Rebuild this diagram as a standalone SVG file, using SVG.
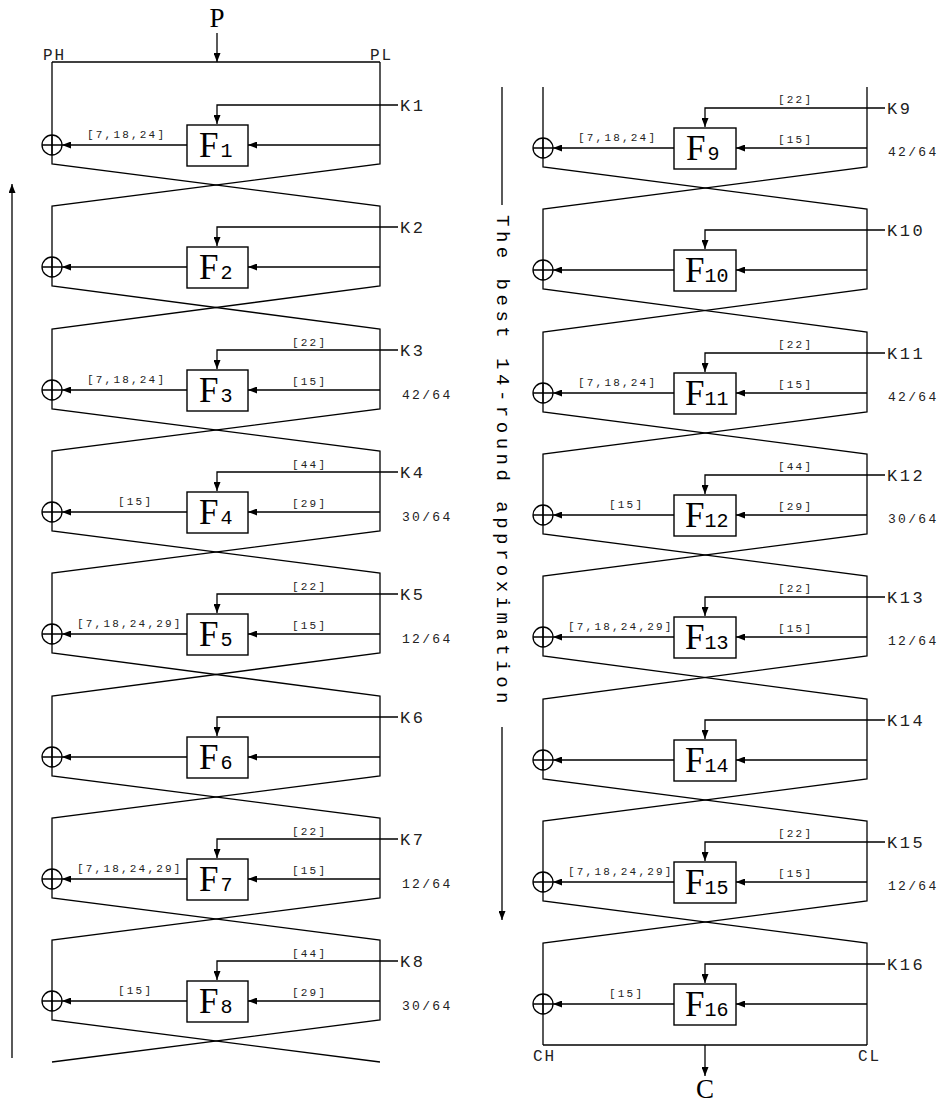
<svg xmlns="http://www.w3.org/2000/svg" width="946" height="1103" viewBox="0 0 946 1103">
<style>
.ln{stroke:#000;stroke-width:1.3;fill:none}
.ar{stroke:#000;stroke-width:1.3;fill:none;marker-end:url(#ah)}
.box{fill:#fff;stroke:#000;stroke-width:1.4}
.xor{fill:none;stroke:#000;stroke-width:1.3}
.lbl{font-family:"Liberation Mono",monospace;font-size:11px;letter-spacing:2.2px;fill:#222}
.frac{font-family:"Liberation Mono",monospace;font-size:13px;letter-spacing:2.3px;fill:#222}
.key{font-family:"Liberation Mono",monospace;font-size:17px;letter-spacing:2.5px;fill:#222}
.end{font-family:"Liberation Mono",monospace;font-size:16px;letter-spacing:2px;fill:#222}
.fn{font-family:"Liberation Serif",serif;font-size:35px;fill:#000}
.sub{font-family:"Liberation Mono",monospace;font-size:20px}
.io{font-family:"Liberation Serif",serif;font-size:27px;fill:#000}
.vt{font-family:"Liberation Mono",monospace;font-size:19px;letter-spacing:4.5px;fill:#000}
</style>
<defs>
<marker id="ah" markerUnits="userSpaceOnUse" markerWidth="9" markerHeight="7" refX="9" refY="3.5" orient="auto"><path d="M0,0 L9,3.5 L0,7 z" fill="#000"/></marker>
</defs>
<rect width="946" height="1103" fill="#fff"/>
<g id="connectors">
<path class="ar" d="M217,33 V62"/>
<path class="ln" d="M52,62 H380"/>
<path class="ln" d="M52,62 V164 L380,206 V286 L52,329 V409 L380,451 V531 L52,573 V653 L380,696 V776 L52,818 V898 L380,940 V1020 L52,1062"/>
<path class="ln" d="M380,62 V164 L52,206 V286 L380,329 V409 L52,451 V531 L380,573 V653 L52,696 V776 L380,818 V898 L52,940 V1020 L380,1062"/>
<path class="ln" d="M543,87 V167 L867,209 V289 L543,332 V412 L867,454 V534 L543,576 V656 L867,699 V779 L543,821 V901 L867,943 V1045"/>
<path class="ln" d="M867,87 V167 L543,209 V289 L867,332 V412 L543,454 V534 L867,576 V656 L543,699 V779 L867,821 V901 L543,943 V1045"/>
<path class="ln" d="M543,1045 H867"/>
<path class="ar" d="M705,1045 V1076"/>
<path class="ar" d="M12,1058 V184"/>
<path class="ln" d="M502,87 V205"/>
<path class="ar" d="M502,727 V920"/>
<path class="ar" d="M398,105 H217 V124"/><path class="ar" d="M380,145 H248"/><path class="ar" d="M187,145 H62"/>
<path class="ar" d="M398,227 H217 V246"/><path class="ar" d="M380,267 H248"/><path class="ar" d="M187,267 H62"/>
<path class="ar" d="M398,350 H217 V369"/><path class="ar" d="M380,390 H248"/><path class="ar" d="M187,390 H62"/>
<path class="ar" d="M398,472 H217 V491"/><path class="ar" d="M380,512 H248"/><path class="ar" d="M187,512 H62"/>
<path class="ar" d="M398,594 H217 V613"/><path class="ar" d="M380,634 H248"/><path class="ar" d="M187,634 H62"/>
<path class="ar" d="M398,717 H217 V736"/><path class="ar" d="M380,757 H248"/><path class="ar" d="M187,757 H62"/>
<path class="ar" d="M398,839 H217 V858"/><path class="ar" d="M380,879 H248"/><path class="ar" d="M187,879 H62"/>
<path class="ar" d="M398,961 H217 V980"/><path class="ar" d="M380,1001 H248"/><path class="ar" d="M187,1001 H62"/>
<path class="ar" d="M885,108 H705 V127"/><path class="ar" d="M867,148 H736"/><path class="ar" d="M674,148 H553"/>
<path class="ar" d="M885,230 H705 V249"/><path class="ar" d="M867,270 H736"/><path class="ar" d="M674,270 H553"/>
<path class="ar" d="M885,353 H705 V372"/><path class="ar" d="M867,393 H736"/><path class="ar" d="M674,393 H553"/>
<path class="ar" d="M885,475 H705 V494"/><path class="ar" d="M867,515 H736"/><path class="ar" d="M674,515 H553"/>
<path class="ar" d="M885,597 H705 V616"/><path class="ar" d="M867,637 H736"/><path class="ar" d="M674,637 H553"/>
<path class="ar" d="M885,720 H705 V739"/><path class="ar" d="M867,760 H736"/><path class="ar" d="M674,760 H553"/>
<path class="ar" d="M885,842 H705 V861"/><path class="ar" d="M867,882 H736"/><path class="ar" d="M674,882 H553"/>
<path class="ar" d="M885,964 H705 V983"/><path class="ar" d="M867,1004 H736"/><path class="ar" d="M674,1004 H553"/>
</g>
<g id="F1"><rect class="box" x="187" y="125" width="61" height="41"/><text class="fn" x="199" y="157">F<tspan class="sub" dx="2">1</tspan></text></g>
<g id="F2"><rect class="box" x="187" y="247" width="61" height="41"/><text class="fn" x="199" y="279">F<tspan class="sub" dx="2">2</tspan></text></g>
<g id="F3"><rect class="box" x="187" y="370" width="61" height="41"/><text class="fn" x="199" y="402">F<tspan class="sub" dx="2">3</tspan></text></g>
<g id="F4"><rect class="box" x="187" y="492" width="61" height="41"/><text class="fn" x="199" y="524">F<tspan class="sub" dx="2">4</tspan></text></g>
<g id="F5"><rect class="box" x="187" y="614" width="61" height="41"/><text class="fn" x="199" y="646">F<tspan class="sub" dx="2">5</tspan></text></g>
<g id="F6"><rect class="box" x="187" y="737" width="61" height="41"/><text class="fn" x="199" y="769">F<tspan class="sub" dx="2">6</tspan></text></g>
<g id="F7"><rect class="box" x="187" y="859" width="61" height="41"/><text class="fn" x="199" y="891">F<tspan class="sub" dx="2">7</tspan></text></g>
<g id="F8"><rect class="box" x="187" y="981" width="61" height="41"/><text class="fn" x="199" y="1013">F<tspan class="sub" dx="2">8</tspan></text></g>
<g id="F9"><rect class="box" x="674" y="128" width="62" height="41"/><text class="fn" x="686" y="160">F<tspan class="sub" dx="2">9</tspan></text></g>
<g id="F10"><rect class="box" x="674" y="250" width="62" height="41"/><text class="fn" x="685" y="282">F<tspan class="sub" dx="0">10</tspan></text></g>
<g id="F11"><rect class="box" x="674" y="373" width="62" height="41"/><text class="fn" x="685" y="405">F<tspan class="sub" dx="0">11</tspan></text></g>
<g id="F12"><rect class="box" x="674" y="495" width="62" height="41"/><text class="fn" x="685" y="527">F<tspan class="sub" dx="0">12</tspan></text></g>
<g id="F13"><rect class="box" x="674" y="617" width="62" height="41"/><text class="fn" x="685" y="649">F<tspan class="sub" dx="0">13</tspan></text></g>
<g id="F14"><rect class="box" x="674" y="740" width="62" height="41"/><text class="fn" x="685" y="772">F<tspan class="sub" dx="0">14</tspan></text></g>
<g id="F15"><rect class="box" x="674" y="862" width="62" height="41"/><text class="fn" x="685" y="894">F<tspan class="sub" dx="0">15</tspan></text></g>
<g id="F16"><rect class="box" x="674" y="984" width="62" height="41"/><text class="fn" x="685" y="1016">F<tspan class="sub" dx="0">16</tspan></text></g>
<g id="xor1" class="xor"><circle cx="52" cy="145" r="10"/><path d="M42,145 H62 M52,135 V155"/></g>
<g id="xor2" class="xor"><circle cx="52" cy="267" r="10"/><path d="M42,267 H62 M52,257 V277"/></g>
<g id="xor3" class="xor"><circle cx="52" cy="390" r="10"/><path d="M42,390 H62 M52,380 V400"/></g>
<g id="xor4" class="xor"><circle cx="52" cy="512" r="10"/><path d="M42,512 H62 M52,502 V522"/></g>
<g id="xor5" class="xor"><circle cx="52" cy="634" r="10"/><path d="M42,634 H62 M52,624 V644"/></g>
<g id="xor6" class="xor"><circle cx="52" cy="757" r="10"/><path d="M42,757 H62 M52,747 V767"/></g>
<g id="xor7" class="xor"><circle cx="52" cy="879" r="10"/><path d="M42,879 H62 M52,869 V889"/></g>
<g id="xor8" class="xor"><circle cx="52" cy="1001" r="10"/><path d="M42,1001 H62 M52,991 V1011"/></g>
<g id="xor9" class="xor"><circle cx="543" cy="148" r="10"/><path d="M533,148 H553 M543,138 V158"/></g>
<g id="xor10" class="xor"><circle cx="543" cy="270" r="10"/><path d="M533,270 H553 M543,260 V280"/></g>
<g id="xor11" class="xor"><circle cx="543" cy="393" r="10"/><path d="M533,393 H553 M543,383 V403"/></g>
<g id="xor12" class="xor"><circle cx="543" cy="515" r="10"/><path d="M533,515 H553 M543,505 V525"/></g>
<g id="xor13" class="xor"><circle cx="543" cy="637" r="10"/><path d="M533,637 H553 M543,627 V647"/></g>
<g id="xor14" class="xor"><circle cx="543" cy="760" r="10"/><path d="M533,760 H553 M543,750 V770"/></g>
<g id="xor15" class="xor"><circle cx="543" cy="882" r="10"/><path d="M533,882 H553 M543,872 V892"/></g>
<g id="xor16" class="xor"><circle cx="543" cy="1004" r="10"/><path d="M533,1004 H553 M543,994 V1014"/></g>
<g id="labels">
<text class="io" x="217" y="27" text-anchor="middle">P</text>
<text class="io" x="705" y="1098" text-anchor="middle">C</text>
<text class="end" x="43" y="60">PH</text>
<text class="end" x="370" y="60">PL</text>
<text class="end" x="533" y="1061">CH</text>
<text class="end" x="858" y="1061">CL</text>
<text class="vt" transform="translate(497,215) rotate(90)">The best 14-round approximation</text>
<text class="key" x="400" y="111">K1</text>
<text class="key" x="400" y="233">K2</text>
<text class="key" x="400" y="356">K3</text>
<text class="key" x="400" y="478">K4</text>
<text class="key" x="400" y="600">K5</text>
<text class="key" x="400" y="723">K6</text>
<text class="key" x="400" y="845">K7</text>
<text class="key" x="400" y="967">K8</text>
<text class="key" x="887" y="114">K9</text>
<text class="key" x="887" y="236">K10</text>
<text class="key" x="887" y="359">K11</text>
<text class="key" x="887" y="481">K12</text>
<text class="key" x="887" y="603">K13</text>
<text class="key" x="887" y="726">K14</text>
<text class="key" x="887" y="848">K15</text>
<text class="key" x="887" y="970">K16</text>
<text class="lbl" x="87" y="138">[7,18,24]</text>
<text class="lbl" x="292" y="346">[22]</text><text class="lbl" x="292" y="385">[15]</text><text class="lbl" x="87" y="383">[7,18,24]</text><text class="frac" x="402" y="399">42/64</text>
<text class="lbl" x="292" y="468">[44]</text><text class="lbl" x="292" y="507">[29]</text><text class="lbl" x="118" y="505">[15]</text><text class="frac" x="402" y="521">30/64</text>
<text class="lbl" x="292" y="590">[22]</text><text class="lbl" x="292" y="629">[15]</text><text class="lbl" x="77" y="627">[7,18,24,29]</text><text class="frac" x="402" y="643">12/64</text>
<text class="lbl" x="292" y="835">[22]</text><text class="lbl" x="292" y="874">[15]</text><text class="lbl" x="77" y="872">[7,18,24,29]</text><text class="frac" x="402" y="888">12/64</text>
<text class="lbl" x="292" y="957">[44]</text><text class="lbl" x="292" y="996">[29]</text><text class="lbl" x="118" y="994">[15]</text><text class="frac" x="402" y="1010">30/64</text>
<text class="lbl" x="778" y="103">[22]</text><text class="lbl" x="778" y="143">[15]</text><text class="lbl" x="578" y="141">[7,18,24]</text><text class="frac" x="888" y="156">42/64</text>
<text class="lbl" x="778" y="348">[22]</text><text class="lbl" x="778" y="388">[15]</text><text class="lbl" x="578" y="386">[7,18,24]</text><text class="frac" x="888" y="401">42/64</text>
<text class="lbl" x="778" y="470">[44]</text><text class="lbl" x="778" y="510">[29]</text><text class="lbl" x="609" y="508">[15]</text><text class="frac" x="888" y="523">30/64</text>
<text class="lbl" x="778" y="592">[22]</text><text class="lbl" x="778" y="632">[15]</text><text class="lbl" x="568" y="630">[7,18,24,29]</text><text class="frac" x="888" y="645">12/64</text>
<text class="lbl" x="778" y="837">[22]</text><text class="lbl" x="778" y="877">[15]</text><text class="lbl" x="568" y="875">[7,18,24,29]</text><text class="frac" x="888" y="890">12/64</text>
<text class="lbl" x="609" y="997">[15]</text>
</g>
</svg>
